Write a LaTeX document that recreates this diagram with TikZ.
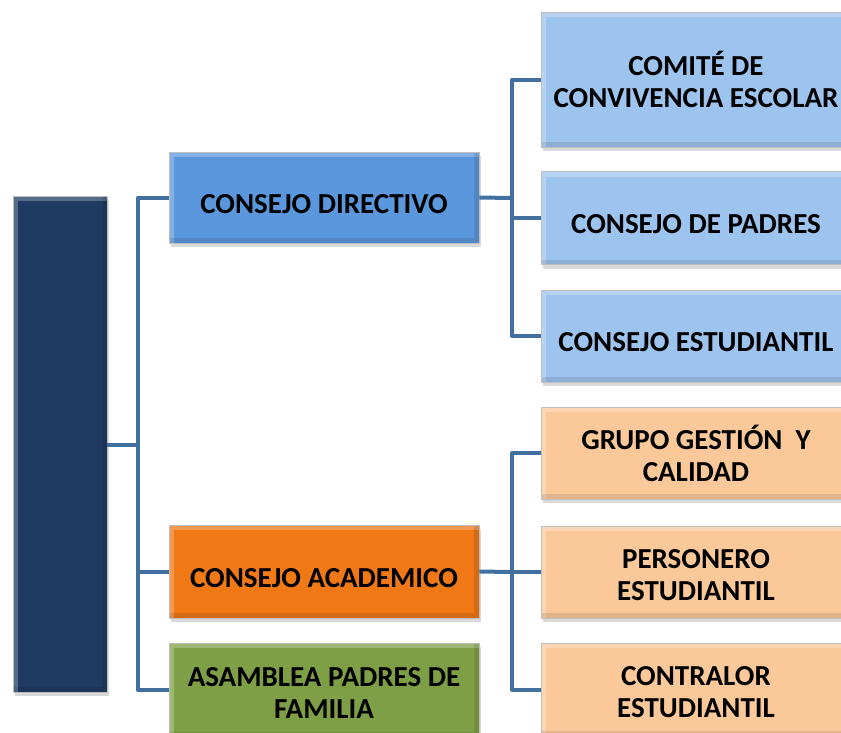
\documentclass[tikz,border=0pt]{standalone}
\usepackage{fontspec}
\setmainfont{Carlito}
\usepackage{tikz}
\usetikzlibrary{shadows}

\definecolor{marino}{HTML}{1F3B62}
\definecolor{azul}{HTML}{5B97DD}
\definecolor{celeste}{HTML}{9DC3EF}
\definecolor{naranja}{HTML}{F07815}
\definecolor{verde}{HTML}{7E9F45}
\definecolor{durazno}{HTML}{FBC89A}
\definecolor{linea}{HTML}{41709F}

\tikzset{
  caja/.style={rectangle, minimum width=310pt, minimum height=92pt,
    inner sep=2pt, align=center, font=\fontsize{29}{32}\selectfont\bfseries,
    draw=black!25, line width=0.6pt,
    drop shadow={opacity=0.3, shadow xshift=2pt, shadow yshift=-4pt},
    path picture={
      \draw[white, opacity=0.25, line width=10pt]
        (path picture bounding box.south west) |- (path picture bounding box.north east);
      \draw[black, opacity=0.1, line width=10pt]
        (path picture bounding box.south west) -| (path picture bounding box.north east);
    }},
  unalinea/.style={text height=31pt, text depth=0pt},
  doslineas/.style={text height=57pt},
  conector/.style={draw=linea, line width=4pt, line join=round}
}

\begin{document}
\begin{tikzpicture}[x=1pt, y=-1pt]
\useasboundingbox (0,0) rectangle (841,732);
\clip (0,0) rectangle (841,732);

% columna izquierda
\node[caja, fill=marino, minimum width=94pt, minimum height=496pt] (raiz) at (60,444) {};

% consejos
\node[caja, unalinea, fill=azul, minimum height=91pt] (directivo) at (324,197.5) {CONSEJO DIRECTIVO};
\node[caja, unalinea, fill=naranja, minimum height=93pt] (academico) at (324,571.5) {CONSEJO ACADEMICO};
\node[caja, doslineas, fill=verde, minimum height=94pt] (asamblea) at (324,690) {ASAMBLEA PADRES DE\\FAMILIA};

% ramas de la derecha
\node[caja, fill=celeste, minimum height=135pt] (comite) at (696,79.5) {COMITÉ DE\\CONVIVENCIA ESCOLAR};
\node[caja, unalinea, fill=celeste, minimum height=93pt] (padres) at (696,218) {CONSEJO DE PADRES};
\node[caja, unalinea, fill=celeste, minimum height=92pt] (estudiantil) at (696,336) {CONSEJO ESTUDIANTIL};
\node[caja, fill=durazno, minimum height=92pt] (gestion) at (696,453) {GRUPO GESTIÓN~~Y\\CALIDAD};
\node[caja, doslineas, fill=durazno, minimum height=92pt] (personero) at (696,572) {PERSONERO\\ESTUDIANTIL};
\node[caja, doslineas, fill=durazno, minimum height=93pt] (contralor) at (696,689.5) {CONTRALOR\\ESTUDIANTIL};

% conectores
\coordinate (tronco) at (138,445);
\coordinate (ramaA) at (512,198);
\coordinate (ramaB) at (512,572);

\draw[conector] (raiz.east |- tronco) -- (tronco);
\draw[conector] (directivo.west) -| (tronco) |- (asamblea.west);
\draw[conector] (academico.west) -- (academico.west -| tronco);

\draw[conector] (directivo.east) -- (ramaA);
\draw[conector] (comite.west) -| (ramaA) |- (estudiantil.west);
\draw[conector] (padres.west) -- (padres.west -| ramaA);

\draw[conector] (academico.east) -- (ramaB);
\draw[conector] (gestion.west) -| (ramaB) |- (contralor.west);
\draw[conector] (personero.west) -- (personero.west -| ramaB);
\end{tikzpicture}
\end{document}
